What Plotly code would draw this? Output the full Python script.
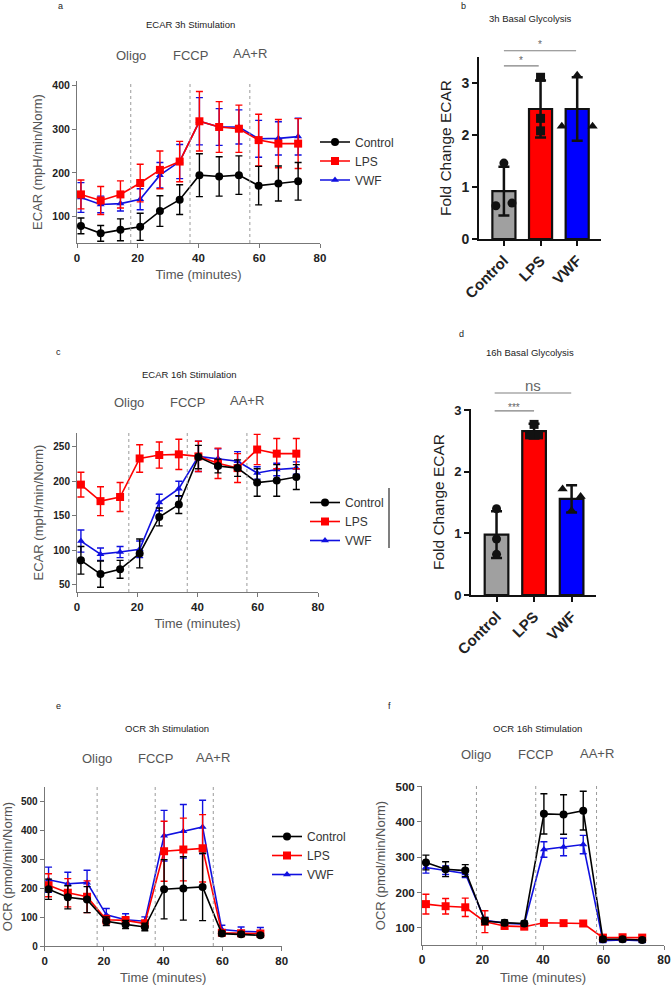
import plotly.graph_objects as go

W, H = 672, 985
FONT = "Liberation Sans, Arial, sans-serif"

# ---- data ---------------------------------------------------------------
TIME = [1.3, 7.8, 14.3, 20.8, 27.3, 33.8, 40.3, 46.8, 53.3, 59.8, 66.3, 72.8]
GROUPS = ["Control", "LPS", "VWF"]
INJECTIONS = ["Oligo", "FCCP", "AA+R"]

# a) ECAR 3h
ecar3_ctrl = [79, 62, 70, 77, 113, 139, 195, 192, 195, 171, 176, 181]
ecar3_ctrl_sd = [18, 18, 25, 31, 35, 34, 49, 45, 44, 44, 40, 43]
ecar3_lps = [151, 137, 151, 177, 207, 226, 318, 305, 301, 275, 267, 267]
ecar3_lps_sd = [33, 32, 31, 43, 43, 46, 68, 58, 54, 59, 55, 57]
ecar3_vwf = [144, 128, 130, 140, 195, 226, 318, 305, 305, 278, 279, 283]
ecar3_vwf_sd = [34, 19, 17, 24, 29, 39, 54, 42, 39, 42, 38, 42]
ecar3_inj = [17.7, 37.2, 56.9]

# b) 3h basal glycolysis (fold change)
glyco3_mean = [0.92, 2.50, 2.50]
glyco3_sd = [0.47, 0.55, 0.61]
glyco3_ctrl_pts = [1.46, 0.64, 0.69]
glyco3_lps_pts = [3.11, 2.32, 2.08]
glyco3_vwf_pts = [3.15, 2.17, 2.17]

# c) ECAR 16h
ecar16_ctrl = [85, 65, 72, 95, 148, 166, 235, 222, 219, 198, 201, 206]
ecar16_ctrl_sd = [20, 19, 13, 21, 13, 13, 17, 10, 12, 20, 23, 18]
ecar16_lps = [195, 171, 177, 233, 238, 239, 236, 226, 219, 246, 240, 240]
ecar16_lps_sd = [18, 21, 21, 20, 19, 22, 22, 22, 21, 22, 22, 22]
ecar16_vwf = [113, 94, 97, 101, 169, 189, 236, 233, 229, 212, 217, 219]
ecar16_vwf_sd = [16, 9, 8, 12, 12, 11, 22, 14, 14, 9, 9, 9]
ecar16_inj = [17.2, 36.6, 56.4]

# d) 16h basal glycolysis (fold change)
glyco16_mean = [0.98, 2.66, 1.56]
glyco16_sd = [0.38, 0.12, 0.22]
glyco16_ctrl_pts = [1.40, 0.91, 0.66]
glyco16_lps_pts = [2.77, 2.60, 2.60]
glyco16_vwf_pts = [1.72, 1.60, 1.37]

# e) OCR 3h
ocr3_ctrl = [197, 169, 161, 86, 75, 66, 197, 200, 205, 43, 41, 37]
ocr3_ctrl_sd = [35, 40, 45, 15, 14, 13, 103, 110, 117, 8, 8, 7]
ocr3_lps = [211, 185, 171, 91, 89, 78, 329, 335, 339, 46, 44, 43]
ocr3_lps_sd = [40, 49, 55, 15, 13, 12, 104, 109, 117, 6, 6, 6]
ocr3_vwf = [230, 216, 220, 108, 91, 86, 383, 398, 413, 57, 51, 49]
ocr3_vwf_sd = [44, 40, 43, 22, 21, 15, 88, 93, 93, 15, 15, 15]
ocr3_inj = [17.7, 37.3, 56.9]

# f) OCR 16h
ocr16_ctrl = [285, 266, 262, 119, 114, 112, 423, 421, 432, 67, 67, 65]
ocr16_ctrl_sd = [21, 21, 17, 10, 8, 7, 57, 56, 55, 6, 6, 6]
ocr16_lps = [167, 161, 158, 117, 105, 103, 114, 113, 112, 72, 73, 72]
ocr16_lps_sd = [28, 22, 26, 31, 8, 6, 9, 7, 8, 7, 7, 7]
ocr16_vwf = [271, 263, 254, 121, 113, 110, 322, 329, 336, 63, 65, 63]
ocr16_vwf_sd = [16, 12, 12, 8, 6, 6, 22, 25, 26, 5, 5, 5]
ocr16_inj = [18.0, 37.6, 57.7]

# ---- styling ------------------------------------------------------------
LINE_COLORS = {"Control": "#000000", "LPS": "#ff0000", "VWF": "#1010e0"}
BAR_COLORS = ["#a0a0a0", "#ff0000", "#0000ff"]
SYMBOLS = {"Control": "circle", "LPS": "square", "VWF": "triangle-up"}
MSIZE = {"Control": 8, "LPS": 8, "VWF": 7}


def dx(a, b):
    return [a / W, b / W]


def dy(top, bottom):
    return [1 - bottom / H, 1 - top / H]


def py(v):
    return 1 - v / H


def ax_id(n, kind):
    return kind if n == 1 else f"{kind}{n}"


fig = go.Figure()


def line_panel(n, series, inj, xdom, ydom, yrange, yticks, ytitle,
               legend=None, ytick_size=10.5, xtick_size=11.5, label_py=None):
    xa, ya = ax_id(n, "x"), ax_id(n, "y")
    # draw order: VWF under LPS under Control
    for name in ["VWF", "LPS", "Control"]:
        y, sd = series[name]
        fig.add_trace(go.Scatter(
            x=TIME, y=y, name=name, xaxis=xa, yaxis=ya, mode="lines+markers",
            line=dict(color=LINE_COLORS[name], width=1.6),
            marker=dict(symbol=SYMBOLS[name], size=MSIZE[name], color=LINE_COLORS[name]),
            error_y=dict(type="data", array=sd, color=LINE_COLORS[name], thickness=1.4, width=3.5),
            showlegend=legend is not None, legend=legend or "legend",
            legendrank=GROUPS.index(name) + 1,
        ))
    for t in inj:
        fig.add_shape(type="line", xref=xa, yref=f"{ya} domain", x0=t, x1=t, y0=0, y1=1,
                      line=dict(color="#9a9a9a", width=1, dash="dot"))
    for t, lab, p in zip(inj, INJECTIONS, label_py):
        fig.add_annotation(text=lab, xref=xa, yref="paper", x=t, y=py(p), showarrow=False,
                           xanchor="center", yanchor="middle",
                           font=dict(family=FONT, size=13, color="#555"))
    fig.layout[ax_id(n, "xaxis")] = dict(
        domain=xdom, anchor=ya, range=[0, 80], tickvals=[0, 20, 40, 60, 80],
        showline=True, linecolor="#777", linewidth=1, ticks="outside", ticklen=4,
        tickcolor="#777", showgrid=False, zeroline=False, automargin=False,
        tickfont=dict(family=FONT, size=xtick_size, color="#222", weight="bold"),
        title=dict(text="Time (minutes)", font=dict(family=FONT, size=13, color="#555"), standoff=7),
    )
    fig.layout[ax_id(n, "yaxis")] = dict(
        domain=ydom, anchor=xa, range=yrange, tickvals=yticks,
        showline=True, linecolor="#777", linewidth=1, ticks="outside", ticklen=4,
        tickcolor="#777", showgrid=False, zeroline=False, automargin=False,
        tickfont=dict(family=FONT, size=ytick_size, color="#222", weight="bold"),
        title=dict(text=ytitle, font=dict(family=FONT, size=13, color="#555"), standoff=6),
    )


def bar_panel(n, means, sds, pts, offsets, xdom, ydom, ytop, sigs, tick_size=14):
    xa, ya = ax_id(n, "x"), ax_id(n, "y")
    xs = list(range(len(GROUPS)))
    fig.add_trace(go.Bar(
        x=xs, y=means, xaxis=xa, yaxis=ya, width=0.63, showlegend=False,
        marker=dict(color=BAR_COLORS, line=dict(color="#111", width=2.2)),
        error_y=dict(type="data", array=sds, color="#111", thickness=2.5, width=5.5),
    ))
    for i, name in enumerate(GROUPS):
        fig.add_trace(go.Scatter(
            x=[i + o for o in offsets[i]], y=pts[i], xaxis=xa, yaxis=ya, mode="markers",
            showlegend=False, cliponaxis=False,
            marker=dict(symbol=SYMBOLS[name], size=9, color="#111"),
        ))
    # significance brackets: heights given in data units, placed via the domain
    for x0, x1, y, txt, tsize, ty in sigs:
        fig.add_shape(type="line", xref=xa, yref=f"{ya} domain", x0=x0, x1=x1,
                      y0=y / ytop, y1=y / ytop, line=dict(color="#808080", width=1.2))
        fig.add_annotation(text=txt, xref=xa, yref=f"{ya} domain", x=(x0 + x1) / 2, y=ty / ytop,
                           xanchor="center", yanchor="middle", showarrow=False,
                           font=dict(family=FONT, size=tsize, color="#666"))
    fig.layout[f"xaxis{n}"] = dict(
        domain=xdom, anchor=ya, range=[-0.68, 2.65], tickvals=xs, ticktext=GROUPS,
        tickangle=-45, showline=True, linecolor="#111", linewidth=2, ticks="outside",
        ticklen=5, tickwidth=2, tickcolor="#111", showgrid=False, zeroline=False,
        automargin=False,
        tickfont=dict(family=FONT, size=15, color="#222", weight="bold"),
    )
    fig.layout[f"yaxis{n}"] = dict(
        domain=ydom, anchor=xa, range=[0, ytop], tickvals=[0, 1, 2, 3],
        showline=True, linecolor="#111", linewidth=2, ticks="outside", ticklen=5,
        tickwidth=2, tickcolor="#111", showgrid=False, zeroline=False, automargin=False,
        tickfont=dict(family=FONT, size=tick_size, color="#222", weight="bold"),
        title=dict(text="Fold Change ECAR", font=dict(family=FONT, size=15.5, color="#222"), standoff=6),
    )


line_panel(1, {"Control": (ecar3_ctrl, ecar3_ctrl_sd), "LPS": (ecar3_lps, ecar3_lps_sd),
               "VWF": (ecar3_vwf, ecar3_vwf_sd)},
           ecar3_inj, dx(77, 320), dy(81, 243), [40, 410], [100, 200, 300, 400],
           "ECAR (mpH/min/Norm)", legend="legend", label_py=[55, 55, 53])

bar_panel(2, glyco3_mean, glyco3_sd, [glyco3_ctrl_pts, glyco3_lps_pts, glyco3_vwf_pts],
          [[0, -0.22, 0.22], [0, 0, 0], [0, -0.42, 0.42]],
          dx(479, 601), dy(57, 239), 3.5,
          [(0, 0.95, 3.33, "*", 10, 3.44), (0, 1.97, 3.62, "*", 10, 3.74)])

line_panel(3, {"Control": (ecar16_ctrl, ecar16_ctrl_sd), "LPS": (ecar16_lps, ecar16_lps_sd),
               "VWF": (ecar16_vwf, ecar16_vwf_sd)},
           ecar16_inj, dx(77, 318), dy(433, 592), [39, 270], [50, 100, 150, 200, 250],
           "ECAR (mpH/min/Norm)", legend="legend2", ytick_size=10, label_py=[402, 402, 400])

bar_panel(4, glyco16_mean, glyco16_sd, [glyco16_ctrl_pts, glyco16_lps_pts, glyco16_vwf_pts],
          [[0, 0, 0], [0, -0.12, 0.12], [-0.24, 0.24, 0]],
          dx(471, 596), dy(409, 595), 3.02,
          [(-0.05, 1.0, 2.99, "***", 10, 3.05), (-0.05, 1.99, 3.28, "ns", 15, 3.40)],
          tick_size=13)

line_panel(5, {"Control": (ocr3_ctrl, ocr3_ctrl_sd), "LPS": (ocr3_lps, ocr3_lps_sd),
               "VWF": (ocr3_vwf, ocr3_vwf_sd)},
           ocr3_inj, dx(44.7, 281.7), dy(787, 946), [0, 552], [0, 100, 200, 300, 400, 500],
           "OCR (pmol/min/Norm)", legend="legend3", ytick_size=10, label_py=[758, 758, 757])

line_panel(6, {"Control": (ocr16_ctrl, ocr16_ctrl_sd), "LPS": (ocr16_lps, ocr16_lps_sd),
               "VWF": (ocr16_vwf, ocr16_vwf_sd)},
           ocr16_inj, dx(422, 664), dy(786, 945), [51, 502], [100, 200, 300, 400, 500],
           "OCR (pmol/min/Norm)", ytick_size=11.5, xtick_size=12, label_py=[754, 754, 753])

# panel titles and letters
for txt, x, y, size in [
    ("ECAR 3h Stimulation", 190, 25, 9.5), ("3h Basal Glycolysis", 530, 18, 9.5),
    ("ECAR 16h Stimulation", 189, 374, 9.5), ("16h Basal Glycolysis", 530, 352, 9.5),
    ("OCR 3h Stimulation", 167, 728, 9.5), ("OCR 16h Stimulation", 537, 728, 9.5),
    ("a", 60, 6, 9), ("b", 463, 6, 9), ("c", 58, 352, 9), ("d", 461, 334, 9),
    ("e", 59, 706, 9), ("f", 389, 706, 9),
]:
    fig.add_annotation(text=txt, xref="paper", yref="paper", x=x / W, y=py(y),
                       xanchor="center", yanchor="middle", showarrow=False,
                       font=dict(family=FONT, size=size, color="#222"))

# stray bracket line next to the legend in panel c
fig.add_shape(type="line", xref="paper", yref="paper", x0=389 / W, x1=389 / W,
              y0=py(548), y1=py(488), line=dict(color="#555", width=1.5))

legend_style = dict(xanchor="left", yanchor="top", bgcolor="rgba(0,0,0,0)",
                    font=dict(family=FONT, size=12, color="#333"), tracegroupgap=0)

fig.update_layout(
    width=W, height=H, margin=dict(l=0, r=0, t=0, b=0, autoexpand=False),
    plot_bgcolor="white", paper_bgcolor="white",
    font=dict(family=FONT),
    bargap=0.36,
    legend=dict(x=315 / W, y=py(127.5), **legend_style),
    legend2=dict(x=305 / W, y=py(488), **legend_style),
    legend3=dict(x=267 / W, y=py(822), **legend_style),
)

# page body has a default 8px margin; drop it so the figure fills the window
fig.write_html("out.html", config={"displayModeBar": False},
               post_script="document.body.style.margin='0';")
